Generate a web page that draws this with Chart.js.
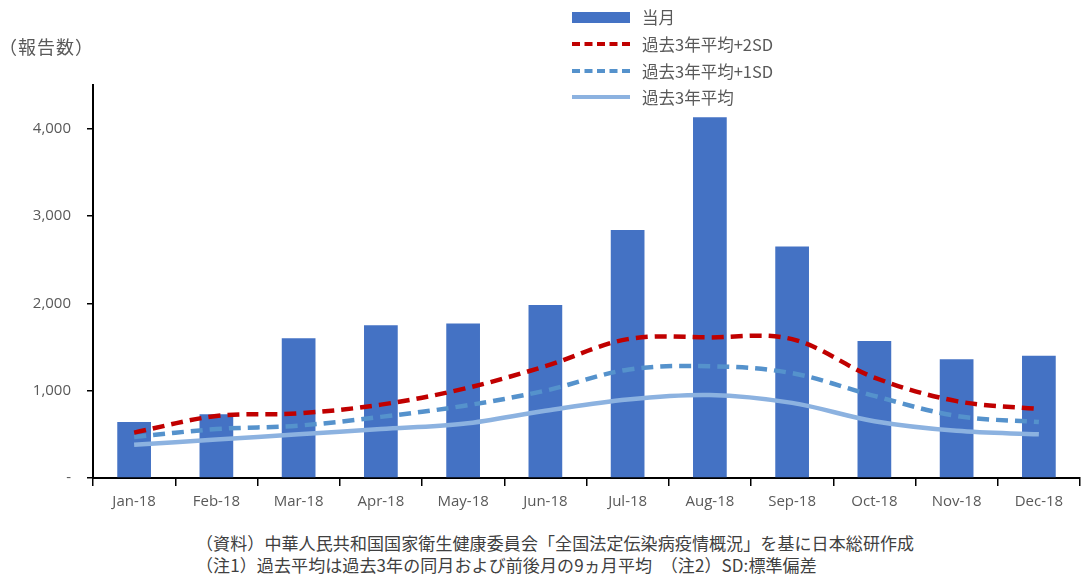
<!DOCTYPE html>
<html lang="ja">
<head>
    <meta charset="UTF-8">
    <title>報告数</title>
    <script src="https://cdn.jsdelivr.net/npm/chart.js"></script>
    <style>
        body { margin: 0; background: #fff; font-family: "Noto Sans CJK JP", "Open Sans", sans-serif; color: #595959; }
        #wrap { position: relative; width: 1086px; height: 576px; overflow: hidden; }
        #box { position: absolute; left: 0; top: 0; width: 1086px; height: 522px; }
        #unit { position: absolute; left: -1px; top: 33px; font-size: 18px; letter-spacing: 1px; }
        #legend { position: absolute; left: 572px; top: 4px; font-size: 16.5px; }
        #legend div { height: 26.7px; display: flex; align-items: center; }
        #legend span.sw { display: inline-block; width: 58px; margin-right: 12px; }
        .notes { position: absolute; left: 196px; font-size: 17px; letter-spacing: 0.1px; color: #404040; white-space: nowrap; }
    </style>
</head>
<body>
<div id="wrap">
    <div id="box"><canvas id="chart"></canvas></div>
    <div id="unit">（報告数）</div>
    <div id="legend"></div>
    <div class="notes" style="top:530px">（資料）中華人民共和国国家衛生健康委員会「全国法定伝染病疫情概況」を基に日本総研作成</div>
    <div class="notes" style="top:552px">（注1）過去平均は過去3年の同月および前後月の9ヵ月平均　（注2）SD:標準偏差</div>
</div>
<script>
    const months = ["Jan-18", "Feb-18", "Mar-18", "Apr-18", "May-18", "Jun-18",
                    "Jul-18", "Aug-18", "Sep-18", "Oct-18", "Nov-18", "Dec-18"];
    const current = [640, 730, 1600, 1750, 1770, 1980, 2840, 4130, 2650, 1570, 1360, 1400];
    const plus2sd = [520, 710, 740, 840, 1020, 1280, 1590, 1610, 1590, 1150, 880, 790];
    const plus1sd = [470, 560, 600, 700, 825, 1000, 1240, 1280, 1200, 940, 710, 640];
    const average = [380, 440, 500, 560, 620, 770, 900, 950, 860, 650, 540, 500];
    const yTicks = [0, 1000, 2000, 3000, 4000];

    const series = [
        { label: "当月", type: "bar", data: current, color: "#4472C4" },
        { label: "過去3年平均+2SD", type: "line", data: plus2sd, color: "#C00000", dash: [12, 7] },
        { label: "過去3年平均+1SD", type: "line", data: plus1sd, color: "#5592CC", dash: [12, 7] },
        { label: "過去3年平均", type: "line", data: average, color: "#8CB2E0", dash: [] }
    ];

    // legend (vertical, top centre) built by hand
    const legend = document.getElementById("legend");
    series.forEach(s => {
        const row = document.createElement("div");
        const sw = document.createElement("span");
        sw.className = "sw";
        if (s.type === "bar") {
            sw.style.height = "11px";
            sw.style.background = s.color;
        } else {
            sw.style.height = "0";
            sw.style.borderTop = "4px " + (s.dash.length ? "dashed " : "solid ") + s.color;
        }
        row.appendChild(sw);
        row.appendChild(document.createTextNode(s.label));
        legend.appendChild(row);
    });

    const datasets = series.map((s, i) => {
        if (s.type === "bar") {
            return {
                type: "bar", label: s.label, data: s.data, backgroundColor: s.color,
                categoryPercentage: 1, barPercentage: 0.41, order: 10
            };
        }
        return {
            type: "line", label: s.label, data: s.data, borderColor: s.color,
            borderWidth: 4.5, borderDash: s.dash, pointRadius: 0, tension: 0.35,
            fill: false, order: i
        };
    });

    const font = { family: "'Open Sans', sans-serif", size: 15 };

    new Chart(document.getElementById("chart"), {
        data: { labels: months, datasets: datasets },
        options: {
            responsive: true,
            maintainAspectRatio: false,
            animation: false,
            layout: { padding: { top: 85, right: 6, left: 0, bottom: 0 } },
            plugins: { legend: { display: false }, tooltip: { enabled: false } },
            scales: {
                x: {
                    grid: { offset: true, drawOnChartArea: false, drawTicks: true, tickLength: 8, color: "#000", lineWidth: 1.5 },
                    border: { color: "#000", width: 2 },
                    ticks: { color: "#595959", font: font, padding: 7, maxRotation: 0 },
                    afterFit: sc => { sc.height = 44; }
                },
                y: {
                    min: 0, max: 4500,
                    afterBuildTicks: sc => { sc.ticks = yTicks.map(v => ({ value: v })); },
                    grid: { drawOnChartArea: false, drawTicks: true, tickLength: 6, color: "#000", lineWidth: 1.5 },
                    border: { color: "#000", width: 2 },
                    ticks: {
                        color: "#595959", font: font, padding: 16,
                        callback: v => v === 0 ? "-" : v.toLocaleString("en-US")
                    },
                    afterFit: sc => { sc.width = 93; }
                }
            }
        }
    });
</script>
</body>
</html>
